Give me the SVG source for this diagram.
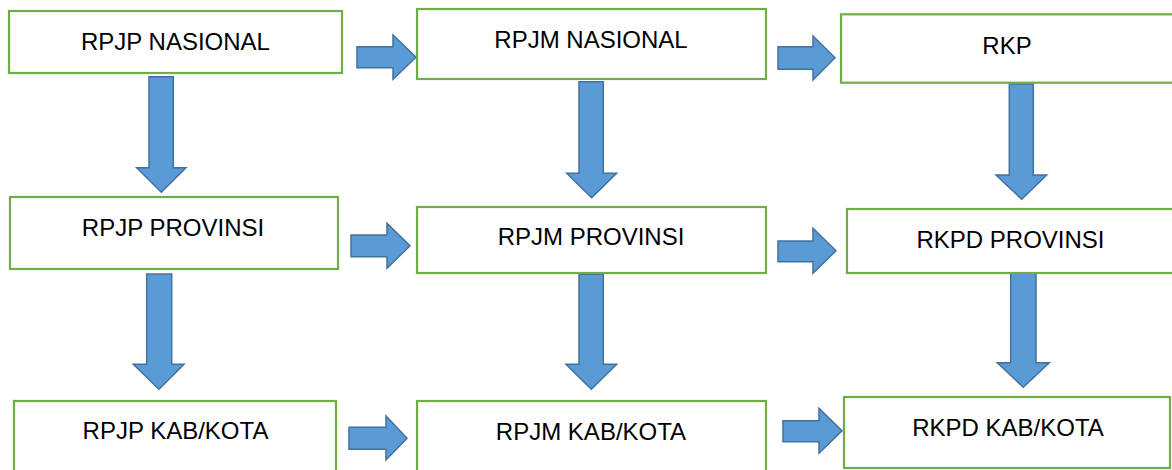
<svg xmlns="http://www.w3.org/2000/svg" width="1172" height="470" viewBox="0 0 1172 470">
<style>
.box{fill:#fff;stroke:#70AD47;stroke-width:2.2}
.lbl{font-family:"Liberation Sans",Arial,sans-serif;font-size:24px;fill:#000;text-anchor:middle}
.arr{fill:#5B9BD5;stroke:#41719C;stroke-width:1.5;stroke-linejoin:miter}
</style>
<rect width="1172" height="470" fill="#fff"/>
<g id="connectors">
<polygon class="arr" points="357,46.7 393,46.7 393,35 416,57.3 393,79.3 393,67.7 357,67.7"/>
<polygon class="arr" points="778,46.7 813,46.7 813,36 835,57.7 813,80 813,69.3 778,69.3"/>
<polygon class="arr" points="351,235 387,235 387,223.3 410,245.7 387,268.3 387,256.7 351,256.7"/>
<polygon class="arr" points="778,241 813,241 813,228.3 836,250.7 813,273.3 813,261.7 778,261.7"/>
<polygon class="arr" points="349,427.3 386,427.3 386,416 407,438.3 386,460 386,449.3 349,449.3"/>
<polygon class="arr" points="783,420.7 819,420.7 819,408.3 842,430.7 819,453.3 819,441.7 783,441.7"/>
<polygon class="arr" points="149,76.7 173.3,76.7 173.3,167.7 186,167.7 161.3,192.3 136.7,167.7 149,167.7"/>
<polygon class="arr" points="579,81.7 603.3,81.7 603.3,173.3 616.7,173.3 591.7,197.7 566.7,173.3 579,173.3"/>
<polygon class="arr" points="1009.3,84 1033.3,84 1033.3,175 1046.7,175 1021.7,199.3 996,175 1009.3,175"/>
<polygon class="arr" points="146.7,274 171.7,274 171.7,364.3 184,364.3 159,389.3 133.3,364.3 146.7,364.3"/>
<polygon class="arr" points="579,274.3 603.3,274.3 603.3,364.3 616.7,364.3 591.3,389.3 566,364.3 579,364.3"/>
<polygon class="arr" points="1010.7,271.7 1036,271.7 1036,362.7 1049.3,362.7 1023.3,387.3 997.3,362.7 1010.7,362.7"/>
</g>
<g id="n-rpjp-nasional"><rect class="box" x="9" y="11" width="333" height="62"/><text class="lbl" x="175.5" y="50">RPJP NASIONAL</text></g>
<g id="n-rpjm-nasional"><rect class="box" x="417" y="9" width="349" height="70"/><text class="lbl" x="591" y="47.7">RPJM NASIONAL</text></g>
<g id="n-rkp"><rect class="box" x="841" y="14.3" width="334" height="68.4"/><text class="lbl" x="1007" y="54.3">RKP</text></g>
<g id="n-rpjp-provinsi"><rect class="box" x="10" y="197" width="328" height="72"/><text class="lbl" x="173" y="235.7">RPJP PROVINSI</text></g>
<g id="n-rpjm-provinsi"><rect class="box" x="417" y="207" width="349" height="66"/><text class="lbl" x="591" y="245">RPJM PROVINSI</text></g>
<g id="n-rkpd-provinsi"><rect class="box" x="847" y="209" width="328" height="64"/><text class="lbl" x="1010.5" y="248.3">RKPD PROVINSI</text></g>
<g id="n-rpjp-kabkota"><rect class="box" x="14" y="401" width="322" height="72"/><text class="lbl" x="175.5" y="439.3">RPJP KAB/KOTA</text></g>
<g id="n-rpjm-kabkota"><rect class="box" x="417" y="401" width="349" height="72"/><text class="lbl" x="591" y="440">RPJM KAB/KOTA</text></g>
<g id="n-rkpd-kabkota"><rect class="box" x="844" y="397" width="326" height="71"/><text class="lbl" x="1008" y="436">RKPD KAB/KOTA</text></g>
</svg>
